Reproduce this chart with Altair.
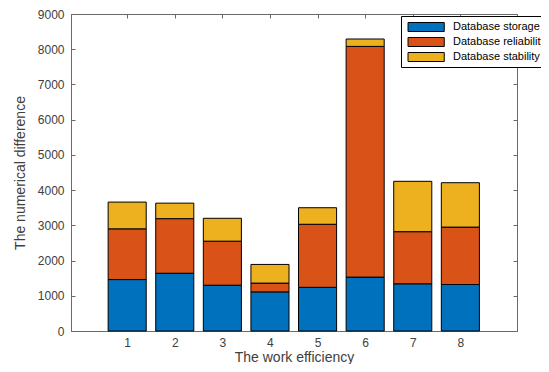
import altair as alt
import pandas as pd

positions = [1, 2, 3, 4, 5, 6, 7, 8]
series_names = ["Database storage", "Database reliability", "Database stability"]
storage = [1460, 1640, 1300, 1110, 1240, 1530, 1340, 1320]
reliability = [1440, 1550, 1250, 250, 1790, 6550, 1480, 1630]
stability = [760, 440, 650, 530, 470, 210, 1430, 1260]
colors = ["#0072BD", "#D95319", "#EDB120"]
y_ticks = [0, 1000, 2000, 3000, 4000, 5000, 6000, 7000, 8000, 9000]

rows = []
for k, vals in enumerate([storage, reliability, stability]):
    for p, v in zip(positions, vals):
        rows.append({"pos": p, "lo": p - 0.4, "hi": p + 0.4,
                     "series": series_names[k], "ord": k, "value": v})
df = pd.DataFrame(rows)

W, H = 446, 317
FONT = "Liberation Sans"
TXT = "#404040"
LINE = "#6a6a6a"

xscale = alt.Scale(domain=[-0.18, 9.19], nice=False, zero=False)
yscale = alt.Scale(domain=[0, 9000], nice=False)

base = alt.Chart(df)

bars = base.transform_stack(
    stack="value", groupby=["pos"], as_=["y0", "y1"],
    sort=[alt.SortField("ord", order="ascending")],
).mark_bar(stroke="black", strokeWidth=1, opacity=1).encode(
    x=alt.X("lo:Q", scale=xscale,
            axis=alt.Axis(values=positions, title="The work efficiency", ticks=False, tickSize=0,
                          labelPadding=6, labelFontSize=12, labelFont=FONT, labelColor=TXT,
                          grid=False, domainColor=LINE, titleFont=FONT, titleFontSize=14,
                          titleFontWeight="normal", titleColor=TXT, titleY=26,
                          titleBaseline="middle", format="d")),
    x2="hi:Q",
    y=alt.Y("y0:Q", scale=yscale,
            axis=alt.Axis(values=y_ticks, title="The numerical difference", ticks=False, tickSize=0,
                          labelPadding=7, labelFontSize=12, labelFont=FONT, labelColor=TXT,
                          grid=False, domainColor=LINE, titleFont=FONT, titleFontSize=14,
                          titleFontWeight="normal", titleColor=TXT, titleX=-51, titleY=H / 2,
                          titleAngle=-90, titleBaseline="middle", titleAnchor="middle",
                          format="d")),
    y2="y1:Q",
    color=alt.Color("series:N", sort=series_names,
                    scale=alt.Scale(domain=series_names, range=colors),
                    legend=alt.Legend(orient="none", legendX=330, legendY=2, title=None,
                                      symbolType="M-0.53,-0.6H4.3V0.6H-0.53Z", symbolSize=225,
                                      symbolStrokeColor="black", symbolStrokeWidth=1,
                                      symbolOpacity=1, labelFontSize=11, labelFont=FONT,
                                      labelColor="black", labelOffset=33, padding=3,
                                      strokeColor="black", fillColor="white", rowPadding=0)),
)

# inward ticks: bottom and left
ticks1 = base.mark_point(opacity=0).encode(
    x=alt.X("lo:Q", scale=xscale,
            axis=alt.Axis(orient="top", offset=-H, values=positions, labels=False, title=None,
                          domain=False, grid=False, tickSize=4, tickColor=LINE)),
    y=alt.Y("value:Q", scale=yscale,
            axis=alt.Axis(orient="right", offset=-W, values=y_ticks, labels=False, title=None,
                          domain=False, grid=False, tickSize=4, tickColor=LINE)),
)
# inward ticks: top and right
ticks2 = base.mark_point(opacity=0).encode(
    x=alt.X("lo:Q", scale=xscale,
            axis=alt.Axis(orient="bottom", offset=-H, values=positions, labels=False, title=None,
                          domain=False, grid=False, tickSize=4, tickColor=LINE)),
    y=alt.Y("value:Q", scale=yscale,
            axis=alt.Axis(orient="left", offset=-W, values=y_ticks, labels=False, title=None,
                          domain=False, grid=False, tickSize=4, tickColor=LINE)),
)

chart = alt.layer(bars, ticks1, ticks2).resolve_axis(
    x="independent", y="independent"
).properties(
    width=W, height=H,
    autosize=alt.AutoSizeParams(type="none"),
    padding={"left": 63, "top": 6, "right": 24, "bottom": 33},
).configure_view(stroke=LINE, strokeWidth=1)

chart.save("out.html", embed_options={"renderer": "svg", "actions": False})
